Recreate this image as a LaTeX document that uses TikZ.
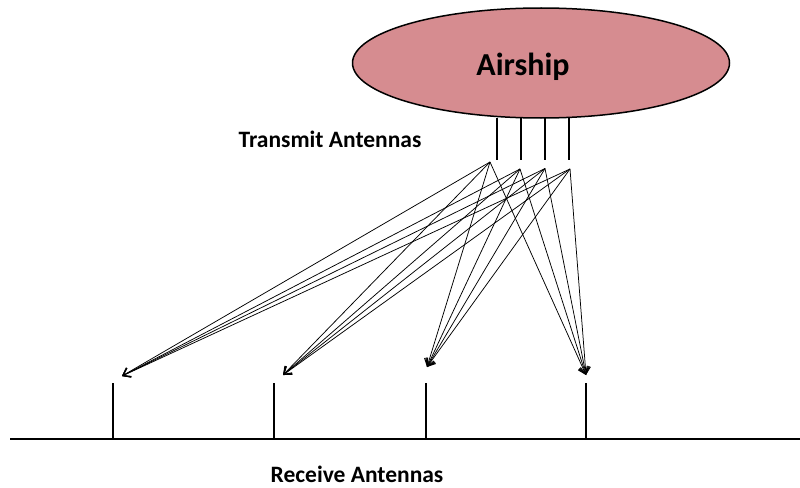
\documentclass[tikz,border=0pt]{standalone}
\usepackage{fontspec}
\setmainfont{Carlito}
\usetikzlibrary{shapes.geometric,arrows.meta}
\definecolor{shippink}{RGB}{214,140,144}
\tikzset{
  antenna/.style={line width=1.5pt,black},
  ray/.style={line width=0.75pt,black,-{Straight Barb[length=7pt,width=10pt,line width=1pt]}},
  lbl/.style={font=\bfseries\fontsize{23.5}{24}\selectfont,inner sep=0pt,anchor=base,text depth=0pt}
}
\begin{document}
\begin{tikzpicture}[x=1pt,y=-1pt]
\useasboundingbox (0,0) rectangle (800,487);
% airship
\node[ellipse,draw=black,line width=1.5pt,fill=shippink,minimum width=377pt,minimum height=110pt,inner sep=0pt] (airship) at (541,63) {};
\node[font=\bfseries\fontsize{32}{32}\selectfont,inner sep=0pt,anchor=base] (airshiplbl) at (523,75) {Airship};
% transmit antennas
\foreach \i/\x in {1/497,2/521,3/545,4/569}{
  \coordinate (ta\i) at (\x,118);
  \coordinate (tb\i) at (\x,160);
  \draw[antenna] (ta\i) -- (tb\i);
}
\node[lbl] (txlbl) at (330,147) {Transmit Antennas};
% ray sources
\coordinate (s1) at (490,162);
\coordinate (s2) at (520,169);
\coordinate (s3) at (545,168.5);
\coordinate (s4) at (570,169);
% ground
\coordinate (gl) at (10,439);
\coordinate (gr) at (800,439);
\draw[line width=1.8pt] (gl) -- (gr);
% receive antennas
\foreach \i/\x in {1/113,2/274,3/426,4/586}{
  \coordinate (ra\i) at (\x,383);
  \coordinate (rb\i) at (\x,439);
  \draw[antenna] (ra\i) -- (rb\i);
}
% ray targets
\coordinate (r1) at (122,376);
\coordinate (r2) at (283,375);
\coordinate (r3) at (427,367);
\coordinate (r4) at (586,375);
\foreach \s in {1,2,3,4}{
  \foreach \r in {1,2,3,4}{
    \draw[ray] (s\s) -- (r\r);
  }
}
\node[lbl] (rxlbl) at (357,482) {Receive Antennas};
\end{tikzpicture}
\end{document}
